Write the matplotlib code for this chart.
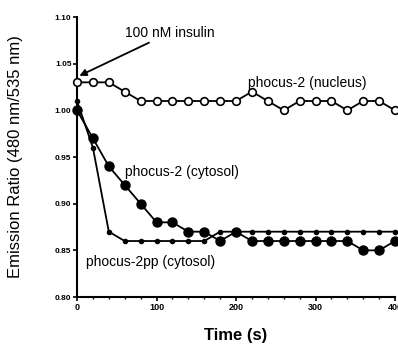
import matplotlib
matplotlib.use('Agg')
from matplotlib import pyplot as plt

matplotlib.rc('font', **{'sans-serif': 'Liberation Sans',
                         'family': 'sans-serif'})

time_s = [0, 20, 40, 60, 80, 100, 120, 140, 160, 180, 200,
          220, 240, 260, 280, 300, 320, 340, 360, 380, 400]

nucleus = [1.03, 1.03, 1.03, 1.02, 1.01, 1.01, 1.01, 1.01, 1.01, 1.01, 1.01,
           1.02, 1.01, 1.00, 1.01, 1.01, 1.01, 1.00, 1.01, 1.01, 1.00]
cytosol = [1.00, 0.97, 0.94, 0.92, 0.90, 0.88, 0.88, 0.87, 0.87, 0.86, 0.87,
           0.86, 0.86, 0.86, 0.86, 0.86, 0.86, 0.86, 0.85, 0.85, 0.86]
cytosol_pp = [1.01, 0.96, 0.87, 0.86, 0.86, 0.86, 0.86, 0.86, 0.86, 0.87, 0.87,
              0.87, 0.87, 0.87, 0.87, 0.87, 0.87, 0.87, 0.87, 0.87, 0.87]

yticks = [0.80, 0.85, 0.90, 0.95, 1.00, 1.05, 1.10]
xticks = [0, 100, 200, 300, 400]

fig = plt.figure(figsize=(3.98, 3.47), dpi=100)
ax = fig.add_axes([0.1935, 0.144, 0.799, 0.807])

ax.plot(time_s, cytosol_pp, '-o', color='black', lw=1.3, ms=3, zorder=2)
ax.plot(time_s, cytosol, '-o', color='black', lw=1.3, ms=6.5, zorder=3)
ax.plot(time_s, nucleus, '-o', color='black', lw=1.3, ms=5.5,
        markerfacecolor='white', markeredgewidth=1.2, zorder=4)

ax.set_xlim(0, 400)
ax.set_ylim(0.80, 1.10)
ax.set_xticks(xticks)
ax.set_xticklabels([str(t) for t in xticks], fontsize=6.5, fontweight='bold')
ax.set_yticks(yticks)
ax.set_yticklabels(['%.2f' % v for v in yticks], fontsize=6, fontweight='bold')
ax.set_xticks(range(0, 401, 20), minor=True)
ax.tick_params(axis='both', which='major', direction='out', length=3, width=1.2, pad=1)
ax.tick_params(axis='x', which='minor', direction='out', length=1.5, width=1)
for side in ['top', 'right']:
    ax.spines[side].set_visible(False)
for side in ['left', 'bottom']:
    ax.spines[side].set_linewidth(1.5)
for line in ax.lines:
    line.set_clip_on(False)

ax.annotate('100 nM insulin', xy=(3, 1.037), xytext=(60, 1.083),
            fontsize=10, va='center', ha='left',
            arrowprops=dict(arrowstyle='-|>', color='black', lw=1.3,
                            mutation_scale=10, shrinkA=0, shrinkB=0))
ax.text(215, 1.029, 'phocus-2 (nucleus)', fontsize=10, va='center', ha='left')
ax.text(60, 0.934, 'phocus-2 (cytosol)', fontsize=10, va='center', ha='left')
ax.text(11, 0.838, 'phocus-2pp (cytosol)', fontsize=10, va='center', ha='left')

ax.set_ylabel('Emission Ratio (480 nm/535 nm)', fontsize=12, labelpad=23)
ax.set_xlabel('Time (s)', fontsize=12, fontweight='bold', labelpad=12)

plt.savefig('out.png', dpi=100)
